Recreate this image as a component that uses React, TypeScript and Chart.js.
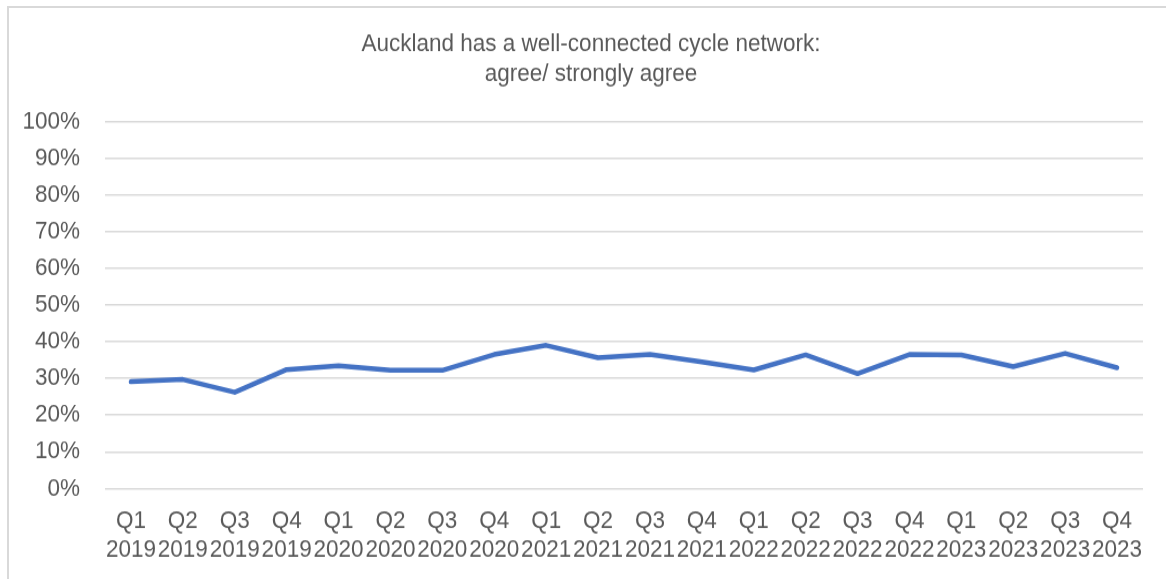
import React, { useEffect, useRef } from "react";
import { Chart, registerables } from "chart.js";

Chart.register(...registerables);

const quarters = ["Q1", "Q2", "Q3", "Q4", "Q1", "Q2", "Q3", "Q4", "Q1", "Q2", "Q3", "Q4", "Q1", "Q2", "Q3", "Q4", "Q1", "Q2", "Q3", "Q4"];
const years = ["2019", "2019", "2019", "2019", "2020", "2020", "2020", "2020", "2021", "2021", "2021", "2021", "2022", "2022", "2022", "2022", "2023", "2023", "2023", "2023"];
const agreeValues = [29.1, 29.7, 26.2, 32.4, 33.4, 32.2, 32.2, 36.5, 39.0, 35.6, 36.5, 34.5, 32.3, 36.4, 31.3, 36.5, 36.4, 33.2, 36.8, 32.9];
const titleLines = ["Auckland has a well-connected cycle network:", "agree/ strongly agree"];

const FONT = "'Liberation Sans', Arial, sans-serif";
const TEXT = "#595959";
const GRID = "#d9d9d9";

const W = 1166;
const H = 522;
const STRETCH = 579 / H;

const titlePlugin = {
  id: "customTitle",
  afterDraw(chart: any) {
    const ctx = chart.ctx;
    ctx.save();
    ctx.fillStyle = TEXT;
    ctx.font = `22.5px ${FONT}`;
    ctx.textAlign = "center";
    ctx.textBaseline = "middle";
    titleLines.forEach((line, i) => {
      ctx.fillText(line, 591, 39.5 + i * 27);
    });
    ctx.restore();
  },
};

export default function App() {
  const ref = useRef<HTMLCanvasElement | null>(null);

  useEffect(() => {
    if (!ref.current) return;
    const labels = quarters.map((q, i) => [q, years[i]]);
    const chart = new Chart(ref.current, {
      type: "line",
      data: {
        labels,
        datasets: [
          {
            data: agreeValues,
            borderColor: "#4472C4",
            backgroundColor: "#4472C4",
            borderWidth: 4.5,
            pointRadius: 0,
            tension: 0,
            borderCapStyle: "round",
            borderJoinStyle: "round",
          },
        ],
      },
      plugins: [titlePlugin],
      options: {
        animation: false,
        responsive: false,
        layout: { padding: { left: 0, right: 23, top: 109.6, bottom: 0 } },
        plugins: {
          legend: { display: false },
          tooltip: { enabled: false },
          title: { display: false },
        },
        scales: {
          x: {
            offset: true,
            afterFit: (scale: any) => {
              scale.height = 81.7;
            },
            grid: { display: false, drawTicks: false },
            border: { display: false },
            ticks: {
              color: TEXT,
              autoSkip: false,
              maxRotation: 0,
              minRotation: 0,
              padding: 17,
              font: { family: FONT, size: 22.5, lineHeight: 1.133 },
            },
          },
          y: {
            min: 0,
            max: 100,
            afterFit: (scale: any) => {
              scale.width = 105;
            },
            grid: { color: GRID, lineWidth: 1.4, drawTicks: false },
            border: { display: false },
            ticks: {
              stepSize: 10,
              color: TEXT,
              padding: 25,
              font: { family: FONT, size: 22.5 },
              callback: (v: any) => `${v}%`,
            },
          },
        },
      },
    });
    return () => chart.destroy();
  }, []);

  return (
    <div style={{ position: "fixed", left: 0, top: 0, width: 1166, height: 579, background: "#fff", overflow: "hidden" }}>
      <div
        style={{
          position: "absolute",
          left: 7,
          top: 6,
          width: 1400,
          height: 800,
          border: "2px solid #d9d9d9",
          boxSizing: "border-box",
        }}
      />
      <canvas
        ref={ref}
        width={W}
        height={H}
        style={{
          position: "absolute",
          left: 0,
          top: 0,
          display: "block",
          width: W,
          height: H,
          transform: `scaleY(${STRETCH})`,
          transformOrigin: "0 0",
        }}
      />
    </div>
  );
}
